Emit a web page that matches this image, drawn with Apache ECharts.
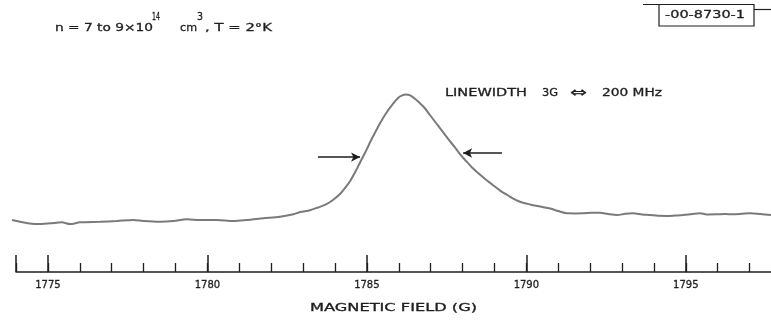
<!DOCTYPE html>
<html>
<head>
<meta charset="utf-8">
<script src="https://cdn.jsdelivr.net/npm/echarts@6/dist/echarts.min.js"></script>
<style>
  html, body { margin: 0; padding: 0; background: #ffffff; }
  #chart { width: 771px; height: 322px; }
</style>
</head>
<body>
<div id="chart"></div>
<script>
// ESR absorption trace: magnetic field (G) vs. signal (arbitrary units)
const fieldG = [1773.88,1774.13,1774.66,1775.07,1775.44,1775.70,1776.01,1776.64,1777.16,1777.68,
  1778.00,1778.52,1778.94,1779.36,1779.77,1780.30,1780.82,1781.24,1781.76,1782.28,
  1782.70,1782.91,1783.22,1783.47,1783.72,1783.94,1784.16,1784.32,1784.48,1784.63,
  1784.79,1784.95,1785.10,1785.26,1785.42,1785.61,1785.82,1785.98,1786.11,1786.23,1786.36,
  1786.48,1786.61,1786.80,1786.98,1787.17,1787.36,1787.55,1787.74,1787.92,1788.11,
  1788.30,1788.49,1788.71,1788.93,1789.18,1789.43,1789.65,1789.87,1790.12,1790.43,
  1790.75,1791.00,1791.28,1791.53,1791.78,1792.06,1792.31,1792.56,1792.85,1793.10,
  1793.35,1793.63,1793.88,1794.13,1794.41,1794.67,1794.92,1795.20,1795.45,1795.70,
  1795.98,1796.23,1796.48,1796.77,1797.02,1797.33,1797.67];
const signal = [6.9,5.7,4.1,4.6,5.3,4.1,5.3,5.7,6.2,6.9,
  6.2,5.7,6.2,7.4,6.9,6.9,6.2,6.9,8.1,9.2,
  10.8,12.4,13.6,15.5,17.6,20.7,24.8,29.0,33.8,39.6,
  46.6,53.4,60.3,67.2,73.8,80.7,86.9,91.0,92.8,93.4,92.8,
  91.0,88.6,84.5,79.3,73.8,68.3,62.8,57.6,52.4,47.6,
  43.1,39.3,35.2,31.4,27.2,23.8,21.0,19.0,17.6,16.2,
  14.8,13.1,11.5,11.4,11.5,11.9,11.9,11.0,10.3,11.2,
  11.5,10.7,10.3,9.8,9.7,10.0,10.3,11.0,11.5,10.7,
  10.8,11.0,10.8,11.2,11.5,11.0,10.3];

// Axis ticks and labels (G)
const minorTicks = [1774,1775,1776,1777,1778,1779,1780,1781,1782,1783,1784,1785,
  1786,1787,1788,1789,1790,1791,1792,1793,1794,1795,1796,1797];
const majorTicks = [1774,1775,1780,1785,1790,1795];
const tickLabels = [1775,1780,1785,1790,1795];

// Half-maximum arrows: [tail, tip] in (field, signal)
const arrowLeft = [[1783.47, 50.3], [1784.79, 50.3]];
const arrowRight = [[1789.24, 53.1], [1788.02, 53.1]];

const INK = '#1e1e1e';
const TRACE = '#7a7a7a';
const FONT = '"DejaVu Sans", "Liberation Sans", sans-serif';

const measureCtx = document.createElement('canvas').getContext('2d');
// Medium-weight lettering, stretched horizontally between left and right edges, centred on cy
function stretched(text, left, right, cy, size) {
  const font = 'normal ' + size + 'px ' + FONT;
  measureCtx.font = font;
  const w = measureCtx.measureText(text).width;
  return {
    type: 'text', x: left, y: cy, scaleX: (right - left) / w, silent: true,
    style: {
      text: text, font: font, fill: INK, stroke: INK, lineWidth: 0.3,
      align: 'left', verticalAlign: 'middle',
      textAlign: 'left', textVerticalAlign: 'middle'
    }
  };
}

const chart = echarts.init(document.getElementById('chart'), null, { renderer: 'canvas' });

chart.setOption({
  animation: false,
  backgroundColor: '#ffffff',
  grid: [
    { left: 12, right: 0, top: 85, bottom: 92 },
    { left: 16, right: 0, bottom: 50, height: 10 },
    { left: 16, right: 0, bottom: 50, height: 10 }
  ],
  xAxis: [
    { gridIndex: 0, type: 'value', min: 1773.88, max: 1797.67, show: false },
    {
      gridIndex: 1, type: 'value', min: 1774, max: 1797.67, position: 'bottom',
      axisLine: { show: true, lineStyle: { color: INK, width: 1.5 } },
      axisTick: { show: true, inside: true, length: 9, customValues: minorTicks,
        lineStyle: { color: INK, width: 1.3 } },
      axisLabel: { show: true, customValues: tickLabels, margin: 8,
        fontSize: 10, fontWeight: 'normal', fontFamily: FONT, color: INK,
        textBorderColor: INK, textBorderWidth: 0.3,
        formatter: v => String(v) },
      splitLine: { show: false }
    },
    {
      gridIndex: 2, type: 'value', min: 1774, max: 1797.67, position: 'bottom',
      axisLine: { show: false },
      axisTick: { show: true, inside: true, length: 17, customValues: majorTicks,
        lineStyle: { color: INK, width: 1.5 } },
      axisLabel: { show: false },
      splitLine: { show: false }
    }
  ],
  yAxis: [
    { gridIndex: 0, type: 'value', min: 0, max: 100, show: false },
    { gridIndex: 1, type: 'value', show: false },
    { gridIndex: 2, type: 'value', show: false }
  ],
  series: [{
    type: 'line',
    xAxisIndex: 0, yAxisIndex: 0,
    data: fieldG.map((g, i) => [g, signal[i]]),
    showSymbol: false,
    smooth: 0.3,
    lineStyle: { color: TRACE, width: 2 },
    markLine: {
      silent: true,
      symbol: ['none', 'arrow'],
      symbolSize: [7, 9],
      label: { show: false },
      lineStyle: { color: INK, width: 1.5, type: 'solid' },
      data: [
        [{ coord: arrowLeft[0] }, { coord: arrowLeft[1] }],
        [{ coord: arrowRight[0] }, { coord: arrowRight[1] }]
      ]
    }
  }],
  graphic: [
    stretched('n = 7 to 9×10', 55, 153, 28, 11),
    stretched('14', 152, 160, 17, 10),
    stretched('cm', 180, 197, 28, 11),
    stretched('3', 197, 203, 17, 10),
    stretched(', T = 2°K', 205, 272, 28, 11),
    stretched('LINEWIDTH', 445, 527, 93.5, 11),
    stretched('3G', 542, 558, 93.5, 11),
    stretched('⇔', 570, 587, 93.5, 14),
    stretched('200 MHz', 602, 662, 93.5, 11),
    stretched('-00-8730-1', 665, 745, 15, 11),
    stretched('MAGNETIC FIELD (G)', 310, 477, 308, 10),
    {
      type: 'polyline', silent: true,
      shape: { points: [[643, 4.5], [754, 4.5], [754, 26], [659, 26], [659, 4.5]] },
      style: { stroke: INK, lineWidth: 1.2, fill: null }
    },
    {
      type: 'polyline', silent: true,
      shape: { points: [[754, 9.5], [771, 9.5]] },
      style: { stroke: INK, lineWidth: 1.2, fill: null }
    }
  ]
});
</script>
</body>
</html>
